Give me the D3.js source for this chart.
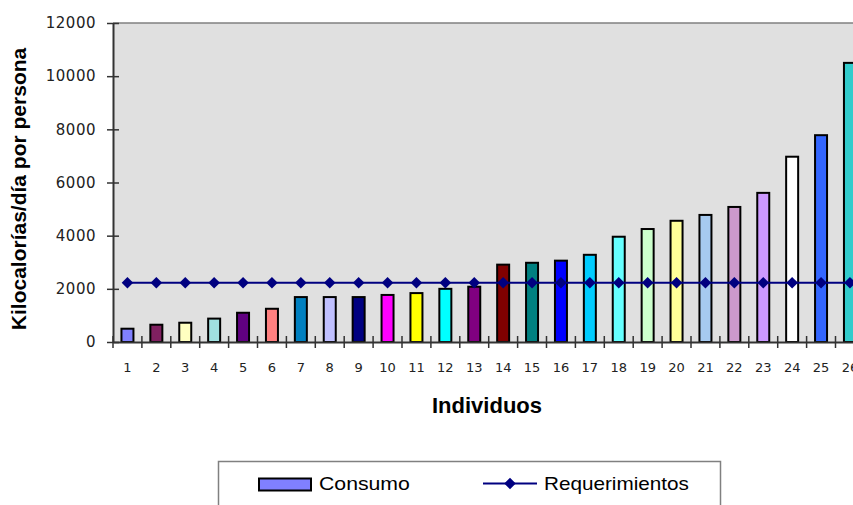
<!DOCTYPE html>
<html>
<head>
<meta charset="utf-8">
<script src="https://cdn.jsdelivr.net/npm/d3@7"></script>
<style>
  html, body { margin: 0; padding: 0; background: #fff; }
  svg { display: block; }
</style>
</head>
<body>
<svg id="chart" width="853" height="505"></svg>
<script>
// Consumo vs requerimientos diarios por individuo
var individuos = ['1','2','3','4','5','6','7','8','9','10','11','12','13','14','15','16','17','18','19','20','21','22','23','24','25','26'];
var consumo = [500, 650, 725, 880, 1100, 1250, 1690, 1690, 1690, 1770, 1840, 2000, 2080, 2910, 2980, 3060, 3280, 3960, 4250, 4560, 4780, 5080, 5610, 6970, 7780, 10500];
var requerimientos = [2230, 2230, 2230, 2230, 2230, 2230, 2230, 2230, 2230, 2230, 2230, 2230, 2230, 2230, 2230, 2230, 2230, 2230, 2230, 2230, 2230, 2230, 2230, 2230, 2230, 2230];
var barColors = ['#8080FF','#802060','#FFFFC0','#A0E0E0','#600080','#FF8080','#0080C0','#C0C0FF','#000080','#FF00FF','#FFFF00','#00FFFF','#800080','#800000','#008080','#0000FF','#00CCFF','#66FFFF','#CCFFCC','#FFFF99','#A6CAF0','#CC99CC','#CC99FF','#FFFFFF','#3366FF','#33CCCC'];
var yTicks = [0, 2000, 4000, 6000, 8000, 10000, 12000];

(function () {
  'use strict';

  var svg = d3.select('#chart');
  var left = 113, top = 23, bottom = 342, band = 28.9;

  var x = d3.scaleBand()
    .domain(individuos)
    .range([left, left + band * individuos.length])
    .padding(0);
  var y = d3.scaleLinear().domain([0, 12000]).range([bottom, top]);

  // plot area
  svg.append('rect')
    .attr('x', left).attr('y', top)
    .attr('width', band * individuos.length).attr('height', bottom - top)
    .attr('fill', '#E0E0E0');
  svg.append('line')
    .attr('x1', left).attr('x2', 853)
    .attr('y1', top).attr('y2', top)
    .attr('stroke', '#808080').attr('stroke-width', 1.5);

  // bars
  var bw = 12;
  svg.selectAll('.bar')
    .data(consumo)
    .enter()
    .append('rect')
    .attr('class', 'bar')
    .attr('x', function (d, i) { return x(individuos[i]) + x.bandwidth() / 2 - bw / 2; })
    .attr('y', function (d) { return y(d); })
    .attr('width', bw)
    .attr('height', function (d) { return y(0) - y(d); })
    .attr('fill', function (d, i) { return barColors[i]; })
    .attr('stroke', '#000')
    .attr('stroke-width', 2);

  // requerimientos line
  var line = d3.line()
    .x(function (d, i) { return x(individuos[i]) + x.bandwidth() / 2; })
    .y(function (d) { return y(d); });
  svg.append('path')
    .datum(requerimientos)
    .attr('d', line)
    .attr('fill', 'none')
    .attr('stroke', '#000080')
    .attr('stroke-width', 2);
  var diamond = d3.symbol().type(d3.symbolDiamond2).size(85);
  svg.selectAll('.pt')
    .data(requerimientos)
    .enter()
    .append('path')
    .attr('class', 'pt')
    .attr('transform', function (d, i) {
      return 'translate(' + (x(individuos[i]) + x.bandwidth() / 2) + ',' + y(d) + ')';
    })
    .attr('d', diamond)
    .attr('fill', '#000080');

  // y axis
  var yAxis = svg.append('g')
    .attr('transform', 'translate(' + left + ',0)')
    .call(d3.axisLeft(y).tickValues(yTicks).tickFormat(d3.format('d'))
      .tickSize(6).tickPadding(11).tickSizeOuter(0));
  yAxis.select('.domain').attr('stroke', '#333').attr('stroke-width', 2);
  yAxis.selectAll('.tick line').attr('x1', 6).attr('stroke', '#333').attr('stroke-width', 1.5);
  yAxis.selectAll('.tick text')
    .style('font-family', 'DejaVu Sans')
    .style('font-size', '15px')
    .style('letter-spacing', '0.5px')
    .attr('fill', '#222');

  // x axis: labels centred, ticks at category boundaries
  var xAxis = svg.append('g')
    .attr('transform', 'translate(0,' + bottom + ')')
    .call(d3.axisBottom(x).tickSize(0).tickPadding(21).tickSizeOuter(0));
  xAxis.select('.domain').attr('stroke', '#333').attr('stroke-width', 2);
  xAxis.selectAll('.tick text')
    .style('font-family', 'DejaVu Sans')
    .style('font-size', '13px')
    .attr('fill', '#222');
  svg.selectAll('.xb')
    .data(individuos)
    .enter()
    .append('line')
    .attr('class', 'xb')
    .attr('x1', function (d) { return x(d); })
    .attr('x2', function (d) { return x(d); })
    .attr('y1', bottom - 6).attr('y2', bottom + 6)
    .attr('stroke', '#333').attr('stroke-width', 1.5);

  // axis titles
  svg.append('text')
    .attr('transform', 'translate(26,189) rotate(-90)')
    .attr('text-anchor', 'middle')
    .style('font-family', 'Liberation Sans, Arial, sans-serif')
    .style('font-weight', 'bold')
    .style('font-size', '21px')
    .text('Kilocalorías/día por persona');
  svg.append('text')
    .attr('x', 487).attr('y', 413)
    .attr('text-anchor', 'middle')
    .style('font-family', 'Liberation Sans, Arial, sans-serif')
    .style('font-weight', 'bold')
    .style('font-size', '22px')
    .text('Individuos');

  // legend
  var lg = svg.append('g');
  lg.append('rect')
    .attr('x', 218.5).attr('y', 461.5)
    .attr('width', 502).attr('height', 60)
    .attr('fill', '#fff').attr('stroke', '#808080').attr('stroke-width', 1.5);
  lg.append('rect')
    .attr('x', 259).attr('y', 478.5)
    .attr('width', 52).attr('height', 12)
    .attr('fill', barColors[0]).attr('stroke', '#000').attr('stroke-width', 2);
  lg.append('text')
    .attr('transform', 'translate(319,490) scale(1.18,1)')
    .style('font-family', 'Liberation Sans, Arial, sans-serif')
    .style('font-size', '18px')
    .text('Consumo');
  lg.append('line')
    .attr('x1', 483).attr('x2', 537)
    .attr('y1', 483.5).attr('y2', 483.5)
    .attr('stroke', '#000080').attr('stroke-width', 2);
  lg.append('path')
    .attr('transform', 'translate(510,483.5)')
    .attr('d', diamond)
    .attr('fill', '#000080');
  lg.append('text')
    .attr('transform', 'translate(544,490) scale(1.15,1)')
    .style('font-family', 'Liberation Sans, Arial, sans-serif')
    .style('font-size', '18px')
    .text('Requerimientos');
})();
</script>
</body>
</html>
